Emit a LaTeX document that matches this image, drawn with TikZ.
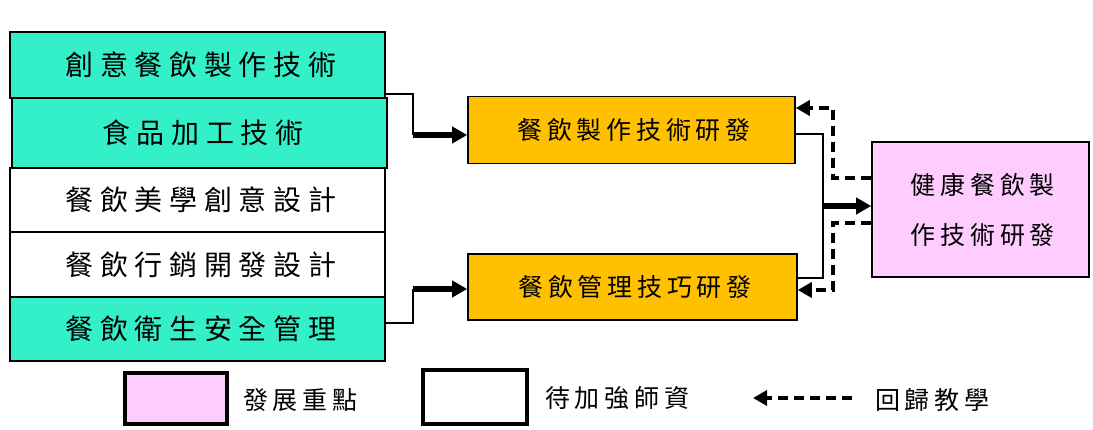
\documentclass[tikz,border=0pt]{standalone}
\usepackage{fontspec}
\usetikzlibrary{arrows.meta}
\newfontfamily\cjkbig[LetterSpace=24]{Noto Sans CJK TC}
\newfontfamily\cjksmall[LetterSpace=19]{Noto Sans CJK TC}
\definecolor{tealfill}{RGB}{51,240,200}
\definecolor{orangefill}{RGB}{255,192,0}
\definecolor{pinkfill}{RGB}{255,204,255}
\tikzset{
  leftbox/.style={draw=black, line width=1.6pt, rectangle, minimum width=375pt, minimum height=66pt, inner sep=0pt,
    font=\cjkbig\fontsize{28}{31}\selectfont},
  midbox/.style={draw=black, line width=1.6pt, rectangle, fill=orangefill, minimum width=327pt, minimum height=67pt, inner sep=0pt,
    font=\cjksmall\fontsize{25}{28}\selectfont},
  bigbox/.style={draw=black, line width=1.6pt, rectangle, fill=pinkfill, minimum width=217pt, minimum height=135pt, inner sep=0pt,
    font=\cjksmall\fontsize{25}{28}\selectfont, align=center},
  legbox/.style={draw=black, line width=4pt, rectangle, minimum width=102pt, minimum height=50pt, inner sep=0pt},
  legtext/.style={font=\cjksmall\fontsize{25}{28}\selectfont, inner sep=0pt, anchor=west},
  thin/.style={draw=black, line width=1.8pt},
  thickarrow/.style={draw=black, line width=5.5pt, -{Triangle[length=15pt,width=16pt]}},
  dasharrow/.style={draw=black, line width=3.5pt, dash pattern=on 10pt off 6pt, -{Triangle[length=14pt,width=15pt]}},
}
\begin{document}
\begin{tikzpicture}[x=1pt,y=-1pt]
\useasboundingbox (0,0) rectangle (1093,430);
\fill[white] (0,0) rectangle (1093,430);
% left column
\node[leftbox, fill=tealfill] (l1) at (197.5,65) {\hspace*{6.7pt}創意餐飲製作技術};
\node[leftbox, fill=tealfill, minimum height=70pt] (l2) at (199.5,133) {\hspace*{6.7pt}食品加工技術};
\node[leftbox, fill=white, minimum height=64pt] (l3) at (197.5,200) {\hspace*{6.7pt}餐飲美學創意設計};
\node[leftbox, fill=white, minimum height=65pt] (l4) at (197.5,264.5) {\hspace*{6.7pt}餐飲行銷開發設計};
\node[leftbox, fill=tealfill, minimum height=64pt] (l5) at (197.5,329) {\hspace*{6.7pt}餐飲衛生安全管理};
% middle
\node[midbox] (o1) at (631.5,130) {\hspace*{4.75pt}餐飲製作技術研發};
\node[midbox, minimum width=329pt, minimum height=66pt] (o2) at (632.5,287) {\hspace*{4.75pt}餐飲管理技巧研發};
% right
\node[bigbox] (p) at (980.5,209.5) {\hspace*{4.75pt}健康餐飲製\\[22pt]\hspace*{4.75pt}作技術研發};
% connectors left -> middle
\coordinate (j1) at (413,135);
\coordinate (j2) at (413,289);
\draw[thin] (l1.east |- 0,94) -- (413,94) -- (j1);
\draw[thickarrow] (j1) -- (o1.west |- j1);
\draw[thin] (l5.east |- 0,323) -- (413,323) -- (j2);
\draw[thickarrow] (j2) -- (o2.west |- j2);
% middle -> right
\coordinate (j3) at (823,206);
\draw[thin] (o1.east |- 0,134) -- (823,134) -- (823,278) -- (o2.east |- 0,278);
\draw[thickarrow] (j3) -- (p.west |- j3);
% feedback dashed
\draw[dasharrow] (p.west |- 0,178) -- (833,178) -- (833,108) -- (o1.east |- 0,108);
\draw[dasharrow] (p.west |- 0,223) -- (833,223) -- (833,290) -- (o2.east |- 0,290);
% legend
\node[legbox, fill=pinkfill] (lg1) at (175.5,398.5) {};
\node[legtext] (lt1) at (243,400) {發展重點};
\node[legbox, fill=white, minimum width=104pt, minimum height=54pt] (lg2) at (475,397) {};
\node[legtext] (lt2) at (545,398) {待加強師資};
\coordinate (la) at (852,398);
\coordinate (lb) at (753,398);
\draw[dasharrow] (la) -- (lb);
\node[legtext] (lt3) at (875,400) {回歸教學};
\end{tikzpicture}
\end{document}
